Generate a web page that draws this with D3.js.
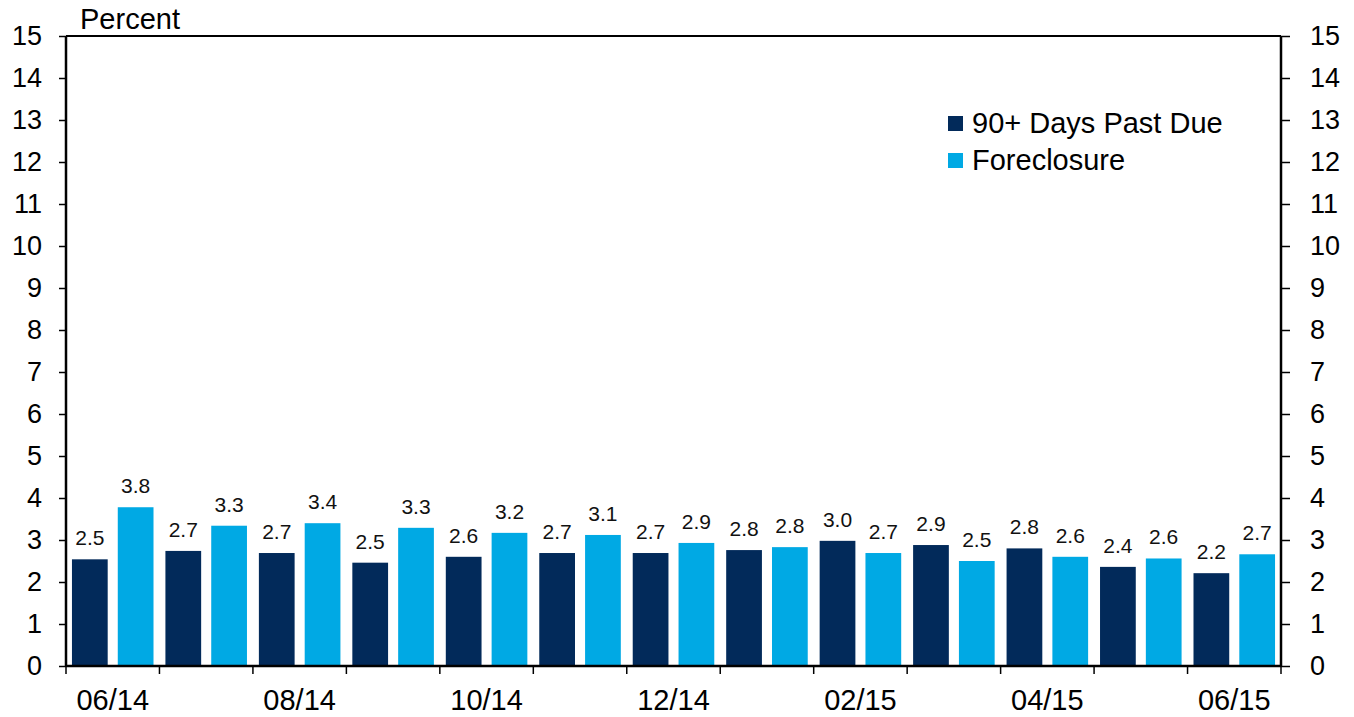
<!DOCTYPE html>
<html>
<head>
<meta charset="utf-8">
<script src="https://cdn.jsdelivr.net/npm/d3@7"></script>
<style>
  body { margin: 0; background: #fff; }
  svg { display: block; font-family: "Liberation Sans", Arial, sans-serif; }
</style>
</head>
<body>
<svg id="chart" width="1354" height="717"></svg>
<script>
// months and the two series (percent)
const months = ["06/14", "07/14", "08/14", "09/14", "10/14", "11/14", "12/14",
  "01/15", "02/15", "03/15", "04/15", "05/15", "06/15"];
const pastDue = [2.54, 2.74, 2.69, 2.46, 2.60, 2.69, 2.69, 2.76, 2.98, 2.88, 2.80, 2.36, 2.21];
const foreclosure = [3.78, 3.34, 3.40, 3.29, 3.17, 3.12, 2.93, 2.83, 2.69, 2.50, 2.60, 2.56, 2.66];
const seriesNames = ["90+ Days Past Due", "Foreclosure"];
const yTicks = d3.range(0, 16);
const xLabels = ["06/14", "08/14", "10/14", "12/14", "02/15", "04/15", "06/15"];

const colors = d3.scaleOrdinal().domain(seriesNames).range(["#022a5a", "#00a9e4"]);

const margin = {top: 36, right: 73, bottom: 51, left: 66};
const width = 1354, height = 717;
const svg = d3.select("#chart");

const x = d3.scaleBand()
  .domain(months)
  .range([margin.left, width - margin.right])
  .padding(0);

const xInner = d3.scaleBand()
  .domain(seriesNames)
  .range([0, x.bandwidth()])
  .paddingInner(0.22)
  .paddingOuter(0.13);

const y = d3.scaleLinear()
  .domain([0, 15])
  .range([height - margin.bottom, margin.top]);

const rows = months.map((m, i) => ({
  month: m,
  values: [
    {name: seriesNames[0], value: pastDue[i]},
    {name: seriesNames[1], value: foreclosure[i]}
  ]
}));

// bars
const groups = svg.append("g")
  .selectAll("g")
  .data(rows)
  .enter()
  .append("g")
  .attr("transform", d => "translate(" + x(d.month) + ",0)");

groups.selectAll("rect")
  .data(d => d.values)
  .enter()
  .append("rect")
  .attr("x", d => xInner(d.name))
  .attr("y", d => y(d.value))
  .attr("width", xInner.bandwidth())
  .attr("height", d => y(0) - y(d.value))
  .attr("fill", d => colors(d.name));

groups.selectAll("text")
  .data(d => d.values)
  .enter()
  .append("text")
  .attr("x", d => xInner(d.name) + xInner.bandwidth() / 2)
  .attr("y", d => y(d.value) - 14)
  .attr("text-anchor", "middle")
  .style("font-size", "21px")
  .attr("fill", "#111")
  .text(d => d3.format(".1f")(d.value));

// frame
svg.append("line")
  .attr("x1", margin.left).attr("x2", width - margin.right)
  .attr("y1", y(15)).attr("y2", y(15))
  .attr("stroke", "#000").attr("stroke-width", 2);

// axes
const yLeft = d3.axisLeft(y).tickValues(yTicks).tickSize(7).tickPadding(17);
const gl = svg.append("g")
  .attr("transform", "translate(" + margin.left + ",0)")
  .call(yLeft);

const yRight = d3.axisRight(y).tickValues(yTicks).tickSize(9).tickPadding(20);
const gr = svg.append("g")
  .attr("transform", "translate(" + (width - margin.right) + ",0)")
  .call(yRight);

[gl, gr].forEach(g => {
  g.select(".domain").attr("stroke-width", 2.5).attr("d", "M0," + y(0) + "V" + y(15));
  g.selectAll(".tick line").attr("stroke-width", 1.5);
  g.selectAll(".tick text").style("font-size", "27px").attr("fill", "#000");
  g.attr("font-family", null).attr("font-size", null);
});

// x axis: ticks at category boundaries, labels every other month
const boundaries = months.map(m => x(m)).concat([x.range()[1]]);
const gx = svg.append("g");
gx.append("line")
  .attr("x1", margin.left).attr("x2", width - margin.right)
  .attr("y1", y(0)).attr("y2", y(0))
  .attr("stroke", "#000").attr("stroke-width", 2.5);
gx.selectAll(".xtick")
  .data(boundaries)
  .enter()
  .append("line")
  .attr("x1", d => d).attr("x2", d => d)
  .attr("y1", y(0)).attr("y2", y(0) + 8)
  .attr("stroke", "#000").attr("stroke-width", 1.5);
gx.selectAll("text")
  .data(xLabels)
  .enter()
  .append("text")
  .attr("x", d => x(d) + x.bandwidth() / 2)
  .attr("y", y(0) + 44)
  .attr("text-anchor", "middle")
  .style("font-size", "29px")
  .text(d => d);

// unit label
svg.append("text")
  .attr("x", 80)
  .attr("y", 29)
  .style("font-size", "29px")
  .text("Percent");

// legend
const legend = svg.append("g")
  .selectAll("g")
  .data(seriesNames)
  .enter()
  .append("g")
  .attr("transform", (d, i) => "translate(948," + (116 + i * 37) + ")");

legend.append("rect")
  .attr("width", 15)
  .attr("height", 15)
  .attr("fill", d => colors(d));

legend.append("text")
  .attr("x", 24)
  .attr("y", 17)
  .style("font-size", "29px")
  .text(d => d);
</script>
</body>
</html>
